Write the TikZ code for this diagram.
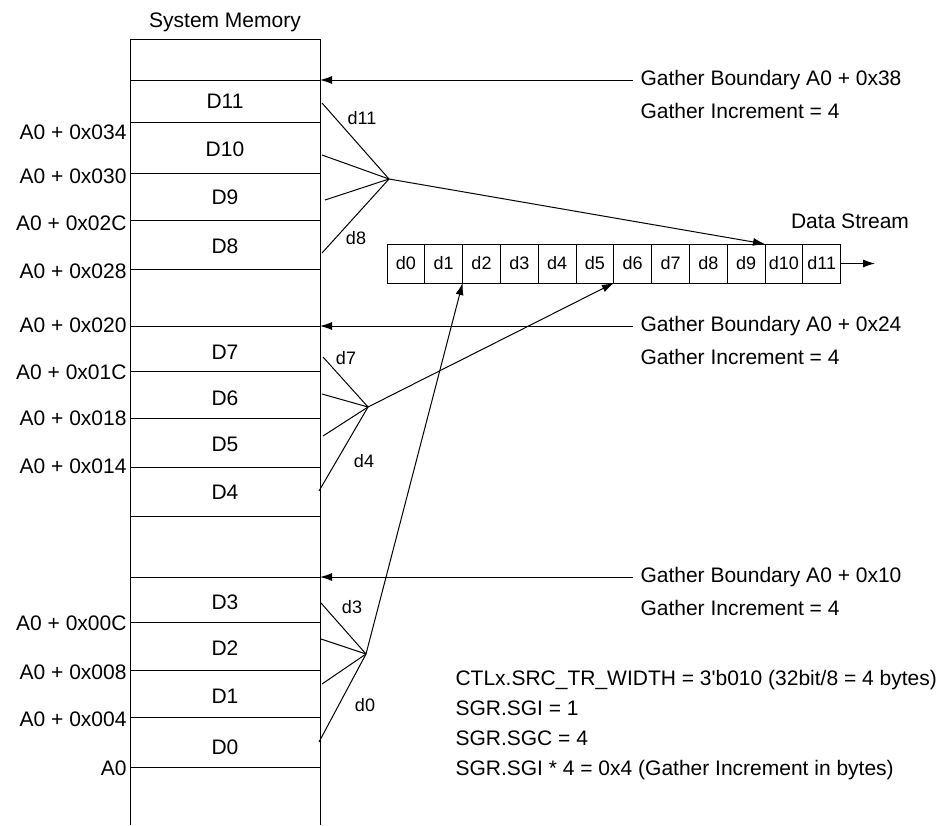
\documentclass[tikz,border=0pt]{standalone}
\usepackage{fontspec}
\setmainfont{Liberation Sans}
\usetikzlibrary{arrows.meta,positioning}

\begin{document}
\begin{tikzpicture}[x=.5pt, y=-.5pt, >={Latex[length=6pt,width=4pt]}, line width=.5pt,
    font=\fontsize{10.5}{12}\selectfont,
    cell/.style={draw, minimum width=18.9pt, minimum height=19.5pt, inner sep=0pt, outer sep=0pt, font=\fontsize{9}{11}\selectfont},
    tag/.style={inner sep=0pt, font=\fontsize{9}{11}\selectfont},
    addr/.style={anchor=east, inner sep=0pt},
    gather/.style={anchor=west, inner xsep=3.5pt, inner ysep=0pt},
    note/.style={anchor=base west, inner sep=0pt}]
    \useasboundingbox (0,0) rectangle (951,825);
    \node (title) at (225,22) {System Memory};
    \draw (130,825) -- (130,39) -- (320,39) -- (320,825);
    \foreach \y in {80,122,173,220,269,326,371,418,467,516,577,622,670,717,767}
      \draw (130,\y) -- (320,\y);
    \foreach \y/\label in {132/034,176/030,223/02C,271/028,325/020,372/01C,418/018,466/014,623/00C,672/008,719/004}
      \node[addr] (a\label) at (127,\y) {A0 + 0x\label};
    \node[addr] (a000) at (127,768) {A0};
    \foreach \i/\y in {11/101,10/149,9/197,8/246,7/352,6/398,5/444,4/492,3/602,2/648,1/696,0/747}
      \node (D\i) at (225,\y) {D\i};
    \foreach \n/\y/\addr in {2/80/38,1/326/24,0/577/10} {
      \coordinate (m\n) at (320,\y);
      \node[gather] (gb\n) at (633,\y) {Gather Boundary A0 + 0x\addr};
      \node[gather] (gi\n) at (633,\y+31) {Gather Increment = 4};
      \draw[->] (gb\n.west) -- (m\n);
    }
    \foreach \i/\x/\y in {11/322/103,10/322/155,9/325/200,8/322/253,7/323/357,6/322/394,5/323/436,4/319/491,3/321/603,2/321/639,1/322/684,0/319/742}
      \coordinate (s\i) at (\x,\y);
    \coordinate (g2) at (389,179);
    \coordinate (g1) at (368,407);
    \coordinate (g0) at (366,654);
    \foreach \i/\g in {11/g2,10/g2,9/g2,8/g2,7/g1,6/g1,5/g1,4/g1,3/g0,2/g0,1/g0,0/g0}
      \draw (s\i) -- (\g);
    \foreach \t/\x/\y in {d11/362/118,d8/356/238,d7/346/358,d4/364/461,d3/352/607,d0/365/705}
      \node[tag] (t\t) at (\x,\y) {\t};
    \node[cell] (c0) at (405.9,263.5) {d0};
    \foreach \i [remember=\i as \last (initially 0)] in {1,...,11}
      \node[cell, right=0pt of c\last] (c\i) {d\i};
    \node (ds) at (850,221) {Data Stream};
    \coordinate (out) at (875,263.5);
    \draw[->] (c11) -- (out);
    \draw[->] (g2) -- (c9.north east);
    \draw[->] (g1) -- (c5.south east);
    \draw[->] (g0) -- (c1.south east);
    \node[note] (n1) at (455,685) {CTLx.SRC\_TR\_WIDTH = 3\textquotesingle b010 (32bit/8 = 4 bytes)};
    \node[note] (n2) at (455,715) {SGR.SGI = 1};
    \node[note] (n3) at (455,745) {SGR.SGC = 4};
    \node[note] (n4) at (455,775) {SGR.SGI * 4 = 0x4 (Gather Increment in bytes)};
\end{tikzpicture}
\end{document}
